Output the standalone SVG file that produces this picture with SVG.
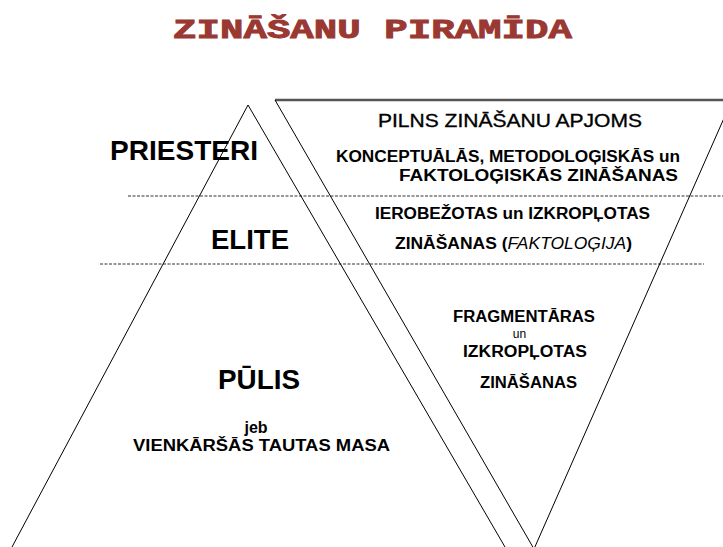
<svg xmlns="http://www.w3.org/2000/svg" width="723" height="547" viewBox="0 0 723 547" xml:space="preserve">
  <style>
    .title { font-family: "Liberation Mono", "Courier New", monospace; font-weight: bold; font-size: 28px; fill: #9a3832; stroke: #9a3832; stroke-width: 0.9; }
    .big { font-family: "Liberation Sans", Arial, sans-serif; font-weight: bold; font-size: 28px; fill: #000; }
    .med { font-family: "Liberation Sans", Arial, sans-serif; font-size: 19px; fill: #000; stroke: #000; stroke-width: 0.35; }
    .sm { font-family: "Liberation Sans", Arial, sans-serif; font-weight: bold; font-size: 16px; fill: #000; }
    .it { font-weight: normal; font-style: italic; }
    .edge { fill: none; stroke: #000; stroke-width: 1; }
    .dash { fill: none; stroke: #333; stroke-width: 1; stroke-dasharray: 3 1.5; }
  </style>
  <rect width="723" height="547" fill="#fff"/>

  <g id="title">
    <text class="title" x="173" y="38" textLength="399" lengthAdjust="spacingAndGlyphs">ZINĀŠANU  PIRAMĪDA</text>
  </g>

  <g id="connectors">
    <line class="dash" x1="128" y1="196" x2="723" y2="196"/>
    <line class="dash" x1="100" y1="264" x2="704" y2="264"/>
  </g>

  <g id="pyramid">
    <polyline class="edge" points="12,547 248,105 505,547"/>
  </g>

  <g id="inverted-pyramid">
    <line x1="275" y1="100" x2="723" y2="100" stroke="#555" stroke-width="2.5"/>
    <polyline class="edge" points="275,100 534,549 732,100"/>
  </g>

  <g id="priesteri">
    <text class="big" x="110" y="160" textLength="148" lengthAdjust="spacingAndGlyphs">PRIESTERI</text>
  </g>
  <g id="elite">
    <text class="big" x="211" y="249" textLength="78" lengthAdjust="spacingAndGlyphs">ELITE</text>
  </g>
  <g id="pulis">
    <text class="big" x="218" y="389" textLength="82" lengthAdjust="spacingAndGlyphs">PŪLIS</text>
    <text class="sm" x="256" y="433" text-anchor="middle">jeb</text>
    <text class="sm" x="133" y="451" textLength="257" lengthAdjust="spacingAndGlyphs">VIENKĀRŠĀS  TAUTAS  MASA</text>
  </g>

  <g id="pilns">
    <text class="med" x="378" y="127" textLength="264" lengthAdjust="spacingAndGlyphs">PILNS  ZINĀŠANU APJOMS</text>
    <text class="sm" x="336" y="162" textLength="344" lengthAdjust="spacingAndGlyphs">KONCEPTUĀLĀS, METODOLOĢISKĀS un</text>
    <text class="sm" x="399" y="181" textLength="279" lengthAdjust="spacingAndGlyphs">FAKTOLOĢISKĀS ZINĀŠANAS</text>
  </g>

  <g id="ierobezotas">
    <text class="sm" x="375" y="219" textLength="275" lengthAdjust="spacingAndGlyphs">IEROBEŽOTAS un IZKROPĻOTAS</text>
    <text class="sm" x="395" y="249" textLength="237" lengthAdjust="spacingAndGlyphs">ZINĀŠANAS (<tspan class="it">FAKTOLOĢIJA</tspan>)</text>
  </g>

  <g id="fragmentaras">
    <text class="sm" x="453" y="322" textLength="142" lengthAdjust="spacingAndGlyphs">FRAGMENTĀRAS</text>
    <text class="med" x="519.5" y="338" text-anchor="middle" style="font-size:12px;stroke-width:0">un</text>
    <text class="sm" x="463" y="357" textLength="124" lengthAdjust="spacingAndGlyphs">IZKROPĻOTAS</text>
    <text class="sm" x="480" y="388" textLength="97" lengthAdjust="spacingAndGlyphs">ZINĀŠANAS</text>
  </g>
</svg>
